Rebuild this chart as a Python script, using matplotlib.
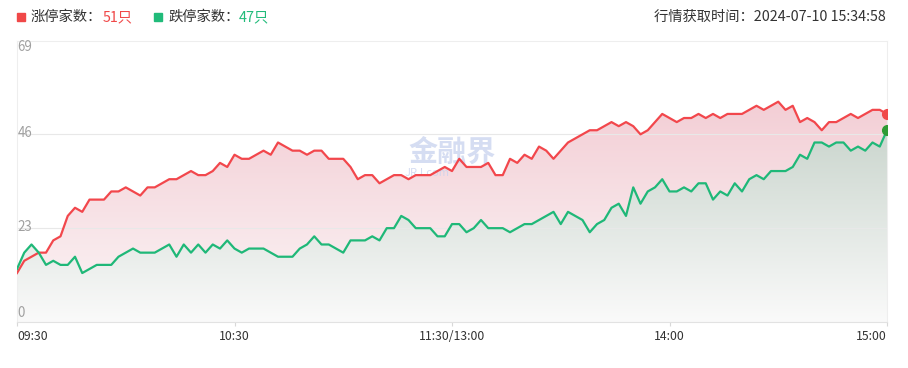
import numpy as np
import matplotlib.pyplot as plt
from matplotlib.patches import Polygon, Rectangle

plt.rcParams['font.family'] = ['Noto Sans CJK SC', 'DejaVu Sans']

# 每两分钟一个点（09:30 起算的分钟数）
minutes = np.arange(0, 241, 2)
up_counts = [
    12, 15, 16, 17, 17, 20, 21, 26, 28, 27, 30, 30, 30, 32, 32, 33, 32, 31, 33, 33,
    34, 35, 35, 36, 37, 36, 36, 37, 39, 38, 41, 40, 40, 41, 42, 41, 44, 43, 42, 42,
    41, 42, 42, 40, 40, 40, 38, 35, 36, 36, 34, 35, 36, 36, 35, 36, 36, 36, 37, 38,
    37, 40, 38, 38, 38, 39, 36, 36, 40, 39, 41, 40, 43, 42, 40, 42, 44, 45, 46, 47,
    47, 48, 49, 48, 49, 48, 46, 47, 49, 51, 50, 49, 50, 50, 51, 50, 51, 50, 51, 51,
    51, 52, 53, 52, 53, 54, 52, 53, 49, 50, 49, 47, 49, 49, 50, 51, 50, 51, 52, 52, 51,
]
down_counts = [
    13, 17, 19, 17, 14, 15, 14, 14, 16, 12, 13, 14, 14, 14, 16, 17, 18, 17, 17, 17,
    18, 19, 16, 19, 17, 19, 17, 19, 18, 20, 18, 17, 18, 18, 18, 17, 16, 16, 16, 18,
    19, 21, 19, 19, 18, 17, 20, 20, 20, 21, 20, 23, 23, 26, 25, 23, 23, 23, 21, 21,
    24, 24, 22, 23, 25, 23, 23, 23, 22, 23, 24, 24, 25, 26, 27, 24, 27, 26, 25, 22,
    24, 25, 28, 29, 26, 33, 29, 32, 33, 35, 32, 32, 33, 32, 34, 34, 30, 32, 31, 34,
    32, 35, 36, 35, 37, 37, 37, 38, 41, 40, 44, 44, 43, 44, 44, 42, 43, 42, 44, 43, 47,
]
tick_minutes = [0, 60, 120, 180, 240]
tick_labels = ['09:30', '10:30', '11:30/13:00', '14:00', '15:00']
y_ticks = [0, 23, 46, 69]

W, H = 908, 368
fig = plt.figure(figsize=(W / 100, H / 100), dpi=100)
ax = fig.add_axes([17 / W, 1 - 322 / H, 870 / W, (322 - 40.5) / H])


def gradient_area(ax, x, y, top_rgb, bottom_rgb, z):
    t = np.linspace(0, 1, 256)[:, None]
    top = np.array(top_rgb) / 255
    bot = np.array(bottom_rgb) / 255
    img = (bot + (top - bot) * t)[:, None, :]
    im = ax.imshow(img, extent=[x[0], x[-1], 0, max(y)], origin='lower',
                   aspect='auto', zorder=z, interpolation='bilinear')
    verts = [(x[0], 0)] + list(zip(x, y)) + [(x[-1], 0)]
    poly = Polygon(verts, closed=True, facecolor='none', edgecolor='none')
    ax.add_patch(poly)
    im.set_clip_path(poly)


gradient_area(ax, minutes, up_counts, (243, 206, 213), (252, 246, 247), 1)
gradient_area(ax, minutes, down_counts, (203, 214, 206), (250, 250, 250), 1.5)

for v in y_ticks[1:-1]:
    ax.axhline(v, color='#e8e8e8', lw=0.8, zorder=2)

ax.plot(minutes, up_counts, color='#f2474c', lw=1.6, zorder=3)
ax.plot(minutes, down_counts, color='#1fb878', lw=1.6, zorder=3)
ax.plot(minutes[-1], up_counts[-1], 'o', color='#f04848', ms=7, zorder=4)
ax.plot(minutes[-1], down_counts[-1], 'o', color='#2e9a34', ms=7, zorder=4)

ax.set_xlim(0, 240)
ax.set_ylim(0, 69)
for s in ax.spines.values():
    s.set_color('#eeeeee')
    s.set_linewidth(0.8)
ax.spines['bottom'].set_color('#e2e2e2')

ax.set_yticks([])
ax.set_xticks(tick_minutes, tick_labels)
ax.tick_params(axis='x', length=3, color='#d8d8d8', labelsize=8.8,
               labelcolor='#333333', pad=3)
lbls = ax.get_xticklabels()
lbls[0].set_ha('left')
lbls[-1].set_ha('right')

for v in y_ticks:
    va = {0: 'bottom', 69: 'top'}.get(v, 'center')
    ax.text(0.2, v + (0.5 if v == 0 else 0.4 if v in (23, 46) else 0.2), str(v),
            fontsize=9.6, color='#a0a0a0', ha='left', va=va, zorder=5)

# 水印
ax.text(120, 41.5, '金融界', fontsize=21, fontweight='bold', color='#c8d2ee',
        alpha=0.75, ha='center', va='center', zorder=2.5)
ax.text(113, 36.5, 'JRJ.com', fontsize=8, color='#c8d2ee', alpha=0.75,
        ha='center', va='center', zorder=2.5)

# 顶部图例与时间
yc = 1 - 17 / H
fig.patches.append(Rectangle((17 / W, 1 - 21 / H), 8 / W, 8 / H, color='#f04848',
                             transform=fig.transFigure, figure=fig))
fig.patches.append(Rectangle((154 / W, 1 - 21 / H), 8 / W, 8 / H, color='#21bb7a',
                             transform=fig.transFigure, figure=fig))
fig.text(31 / W, yc, '涨停家数：', fontsize=10.3, color='#333333', va='center')
fig.text(103 / W, yc, '51只', fontsize=10.3, color='#f04848', va='center')
fig.text(168 / W, yc, '跌停家数：', fontsize=10.3, color='#333333', va='center')
fig.text(239 / W, yc, '47只', fontsize=10.3, color='#21bb7a', va='center')
fig.text(886 / W, yc, '行情获取时间：2024-07-10 15:34:58', fontsize=10.3,
         color='#333333', va='center', ha='right')

fig.savefig('out.png', dpi=100)
